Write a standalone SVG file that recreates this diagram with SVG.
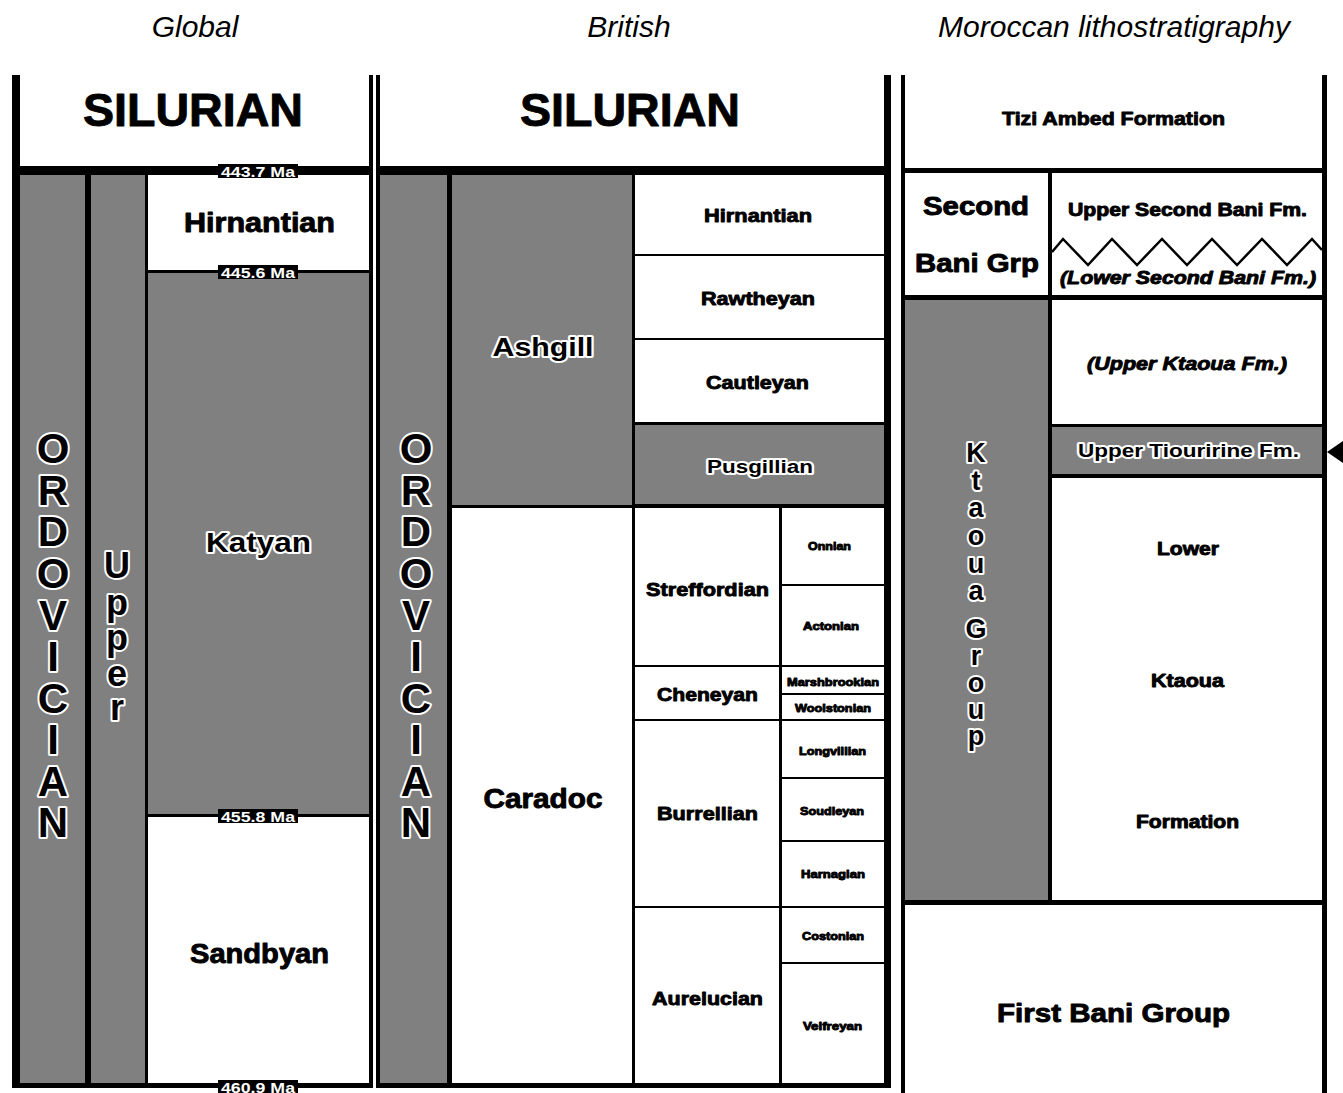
<svg xmlns="http://www.w3.org/2000/svg" width="1343" height="1093" viewBox="0 0 1343 1093">
<style>
text{font-family:"Liberation Sans",Arial,Helvetica,sans-serif;text-anchor:middle}
.hd{font-style:italic;font-size:30px;fill:#000}
.b{font-weight:bold;fill:#000;stroke:#000;stroke-width:0.9;stroke-linejoin:round}
.o{font-weight:bold;fill:#000;stroke:#fff;stroke-width:4;paint-order:stroke;stroke-linejoin:round}
.ma{font-weight:bold;font-size:14px;fill:#fff}
.w{fill:#fff}
.g{fill:#808080}
.k{fill:#000}
</style>
<rect x="0" y="0" width="1343" height="1093" fill="#fff"/>
<!-- column titles -->
<text class="hd" x="195" y="37">Global</text>
<text class="hd" x="629" y="37">British</text>
<text class="hd" x="1114" y="37">Moroccan lithostratigraphy</text>

<!-- panel frames (black backgrounds form the borders) -->
<g id="frames">
<rect class="k" x="12" y="75" width="361" height="1013"/>
<rect class="k" x="376" y="75" width="515" height="1013"/>
<rect class="k" x="901" y="75" width="426" height="1018"/>
</g>

<!-- GLOBAL -->
<g id="g-silurian"><rect class="w" x="20" y="75" width="349" height="91"/><text class="b" x="193" y="126" font-size="46" textLength="220" lengthAdjust="spacingAndGlyphs">SILURIAN</text></g>
<g id="g-ordovician"><rect class="g" x="20" y="175" width="65" height="908"/>
<text class="o" font-size="42" stroke-width="5"><tspan x="53" y="463">O</tspan><tspan x="53" y="505">R</tspan><tspan x="53" y="546">D</tspan><tspan x="53" y="588">O</tspan><tspan x="53" y="630">V</tspan><tspan x="53" y="671">I</tspan><tspan x="53" y="713">C</tspan><tspan x="53" y="754">I</tspan><tspan x="53" y="796">A</tspan><tspan x="53" y="837">N</tspan></text></g>
<g id="g-upper"><rect class="g" x="91" y="175" width="54" height="908"/>
<text class="o" font-size="36" stroke-width="4.5"><tspan x="117" y="578">U</tspan><tspan x="117" y="615">p</tspan><tspan x="117" y="650">p</tspan><tspan x="117" y="686">e</tspan><tspan x="117" y="720">r</tspan></text></g>
<g id="g-hirnantian"><rect class="w" x="148" y="175" width="221" height="95"/><text class="b" x="259.5" y="232" font-size="27" textLength="151" lengthAdjust="spacingAndGlyphs">Hirnantian</text></g>
<g id="g-katyan"><rect class="g" x="148" y="273" width="221" height="541"/><text class="o" x="258.5" y="552" font-size="27" textLength="105" lengthAdjust="spacingAndGlyphs">Katyan</text></g>
<g id="g-sandbyan"><rect class="w" x="148" y="817" width="221" height="266"/><text class="b" x="259.5" y="963" font-size="27" textLength="139" lengthAdjust="spacingAndGlyphs">Sandbyan</text></g>
<g id="ma-labels">
<rect class="k" x="218" y="164" width="80" height="14"/><text class="ma" x="258" y="177" textLength="74" lengthAdjust="spacingAndGlyphs">443.7 Ma</text>
<rect class="k" x="218" y="265" width="80" height="14"/><text class="ma" x="258" y="278" textLength="74" lengthAdjust="spacingAndGlyphs">445.6 Ma</text>
<rect class="k" x="218" y="809" width="80" height="14"/><text class="ma" x="258" y="822" textLength="74" lengthAdjust="spacingAndGlyphs">455.8 Ma</text>
<rect class="k" x="218" y="1080" width="80" height="14"/><text class="ma" x="258" y="1093" textLength="74" lengthAdjust="spacingAndGlyphs">460.9 Ma</text>
</g>

<!-- BRITISH -->
<g id="b-silurian"><rect class="w" x="380" y="75" width="504" height="91"/><text class="b" x="630" y="126" font-size="46" textLength="220" lengthAdjust="spacingAndGlyphs">SILURIAN</text></g>
<g id="b-ordovician"><rect class="g" x="380" y="175" width="67" height="908"/>
<text class="o" font-size="42" stroke-width="5"><tspan x="416" y="463">O</tspan><tspan x="416" y="505">R</tspan><tspan x="416" y="546">D</tspan><tspan x="416" y="588">O</tspan><tspan x="416" y="630">V</tspan><tspan x="416" y="671">I</tspan><tspan x="416" y="713">C</tspan><tspan x="416" y="754">I</tspan><tspan x="416" y="796">A</tspan><tspan x="416" y="837">N</tspan></text></g>
<g id="b-ashgill"><rect class="g" x="452" y="175" width="180" height="330"/><text class="o" x="543" y="356" font-size="26" textLength="101" lengthAdjust="spacingAndGlyphs">Ashgill</text></g>
<g id="b-caradoc"><rect class="w" x="452" y="508" width="180" height="575"/><text class="b" x="543" y="808" font-size="27" textLength="119" lengthAdjust="spacingAndGlyphs">Caradoc</text></g>
<g id="b-hirnantian"><rect class="w" x="635" y="175" width="249" height="79"/><text class="b" x="758" y="222" font-size="19" textLength="108" lengthAdjust="spacingAndGlyphs">Hirnantian</text></g>
<g id="b-rawtheyan"><rect class="w" x="635" y="256" width="249" height="82"/><text class="b" x="758" y="305" font-size="19" textLength="114" lengthAdjust="spacingAndGlyphs">Rawtheyan</text></g>
<g id="b-cautleyan"><rect class="w" x="635" y="340" width="249" height="82"/><text class="b" x="757.5" y="389" font-size="19" textLength="103" lengthAdjust="spacingAndGlyphs">Cautleyan</text></g>
<g id="b-pusgillian"><rect class="g" x="635" y="425" width="249" height="79"/><text class="o" x="760" y="473" font-size="18" stroke-width="3" textLength="106" lengthAdjust="spacingAndGlyphs">Pusgillian</text></g>
<g id="b-streffordian"><rect class="w" x="635" y="508" width="144" height="157"/><text class="b" x="707.5" y="596" font-size="19" textLength="123" lengthAdjust="spacingAndGlyphs">Streffordian</text></g>
<g id="b-onnian"><rect class="w" x="782" y="508" width="102" height="76"/><text class="b" x="829.5" y="550" font-size="11" stroke-width="0.5" textLength="43" lengthAdjust="spacingAndGlyphs">Onnian</text></g>
<g id="b-actonian"><rect class="w" x="782" y="586" width="102" height="79"/><text class="b" x="831" y="630" font-size="11" stroke-width="0.5" textLength="56" lengthAdjust="spacingAndGlyphs">Actonian</text></g>
<g id="b-cheneyan"><rect class="w" x="635" y="667" width="144" height="52"/><text class="b" x="707.5" y="701" font-size="19" textLength="101" lengthAdjust="spacingAndGlyphs">Cheneyan</text></g>
<g id="b-marshbrookian"><rect class="w" x="782" y="667" width="102" height="26"/><text class="b" x="833" y="686" font-size="11" stroke-width="0.5" textLength="92" lengthAdjust="spacingAndGlyphs">Marshbrookian</text></g>
<g id="b-woolstonian"><rect class="w" x="782" y="695" width="102" height="24"/><text class="b" x="833" y="712" font-size="11" stroke-width="0.5" textLength="76" lengthAdjust="spacingAndGlyphs">Woolstonian</text></g>
<g id="b-burrellian"><rect class="w" x="635" y="721" width="144" height="185"/><text class="b" x="707.5" y="820" font-size="19" textLength="101" lengthAdjust="spacingAndGlyphs">Burrellian</text></g>
<g id="b-longvillian"><rect class="w" x="782" y="721" width="102" height="56"/><text class="b" x="832.5" y="755" font-size="11" stroke-width="0.5" textLength="67" lengthAdjust="spacingAndGlyphs">Longvillian</text></g>
<g id="b-soudleyan"><rect class="w" x="782" y="779" width="102" height="61"/><text class="b" x="832" y="815" font-size="11" stroke-width="0.5" textLength="64" lengthAdjust="spacingAndGlyphs">Soudleyan</text></g>
<g id="b-harnagian"><rect class="w" x="782" y="842" width="102" height="64"/><text class="b" x="833" y="878" font-size="11" stroke-width="0.5" textLength="64" lengthAdjust="spacingAndGlyphs">Harnagian</text></g>
<g id="b-aurelucian"><rect class="w" x="635" y="908" width="144" height="175"/><text class="b" x="707.5" y="1005" font-size="19" textLength="111" lengthAdjust="spacingAndGlyphs">Aurelucian</text></g>
<g id="b-costonian"><rect class="w" x="782" y="908" width="102" height="54"/><text class="b" x="833" y="940" font-size="11" stroke-width="0.5" textLength="62" lengthAdjust="spacingAndGlyphs">Costonian</text></g>
<g id="b-velfreyan"><rect class="w" x="782" y="964" width="102" height="119"/><text class="b" x="832.5" y="1030" font-size="11" stroke-width="0.5" textLength="59" lengthAdjust="spacingAndGlyphs">Velfreyan</text></g>

<!-- MOROCCAN -->
<g id="m-tizi"><rect class="w" x="905" y="75" width="417" height="93"/><text class="b" x="1113.5" y="125" font-size="19" textLength="223" lengthAdjust="spacingAndGlyphs">Tizi Ambed Formation</text></g>
<g id="m-second-bani-grp"><rect class="w" x="905" y="173" width="143" height="122"/>
<text class="b" x="976" y="215" font-size="25" textLength="106" lengthAdjust="spacingAndGlyphs">Second</text>
<text class="b" x="977" y="272" font-size="25" textLength="124" lengthAdjust="spacingAndGlyphs">Bani Grp</text></g>
<g id="m-second-bani-fm"><rect class="w" x="1052" y="173" width="270" height="122"/>
<text class="b" x="1187.5" y="216" font-size="18" textLength="239" lengthAdjust="spacingAndGlyphs">Upper Second Bani Fm.</text>
<text class="b" x="1188" y="284" font-size="18" font-style="italic" textLength="256" lengthAdjust="spacingAndGlyphs">(Lower Second Bani Fm.)</text></g>
<g id="m-ktaoua-group"><rect class="g" x="905" y="300" width="143" height="600"/>
<text class="o" font-size="27" stroke-width="3.5"><tspan x="976" y="462">K</tspan><tspan x="976" y="490">t</tspan><tspan x="976" y="517">a</tspan><tspan x="976" y="545">o</tspan><tspan x="976" y="573">u</tspan><tspan x="976" y="600">a</tspan><tspan x="976" y="638">G</tspan><tspan x="976" y="665">r</tspan><tspan x="976" y="692">o</tspan><tspan x="976" y="719">u</tspan><tspan x="976" y="745">p</tspan></text></g>
<g id="m-upper-ktaoua"><rect class="w" x="1052" y="300" width="270" height="124"/><text class="b" x="1187" y="370" font-size="18" font-style="italic" textLength="200" lengthAdjust="spacingAndGlyphs">(Upper Ktaoua Fm.)</text></g>
<g id="m-upper-tiouririne"><rect class="g" x="1052" y="427" width="270" height="47"/><text class="o" x="1188.5" y="457" font-size="18" stroke-width="3" textLength="221" lengthAdjust="spacingAndGlyphs">Upper Tiouririne Fm.</text></g>
<g id="m-lower-ktaoua"><rect class="w" x="1052" y="478" width="270" height="422"/>
<text class="b" x="1188" y="555" font-size="18" textLength="62" lengthAdjust="spacingAndGlyphs">Lower</text>
<text class="b" x="1187.5" y="687" font-size="18" textLength="73" lengthAdjust="spacingAndGlyphs">Ktaoua</text>
<text class="b" x="1187.5" y="828" font-size="18" textLength="103" lengthAdjust="spacingAndGlyphs">Formation</text></g>
<g id="m-first-bani"><rect class="w" x="905" y="905" width="417" height="188"/><text class="b" x="1113.5" y="1022" font-size="25" textLength="233" lengthAdjust="spacingAndGlyphs">First Bani Group</text></g>

<g id="connectors">
<polyline points="1052,252 1063,239 1088,265 1112,239 1137,265 1162,239 1187,265 1212,239 1237,265 1262,239 1287,265 1312,239 1322,250" fill="none" stroke="#000" stroke-width="2.5" stroke-linejoin="miter"/>
<polygon points="1327,452 1343,441 1343,463" fill="#000"/>
</g>
</svg>
